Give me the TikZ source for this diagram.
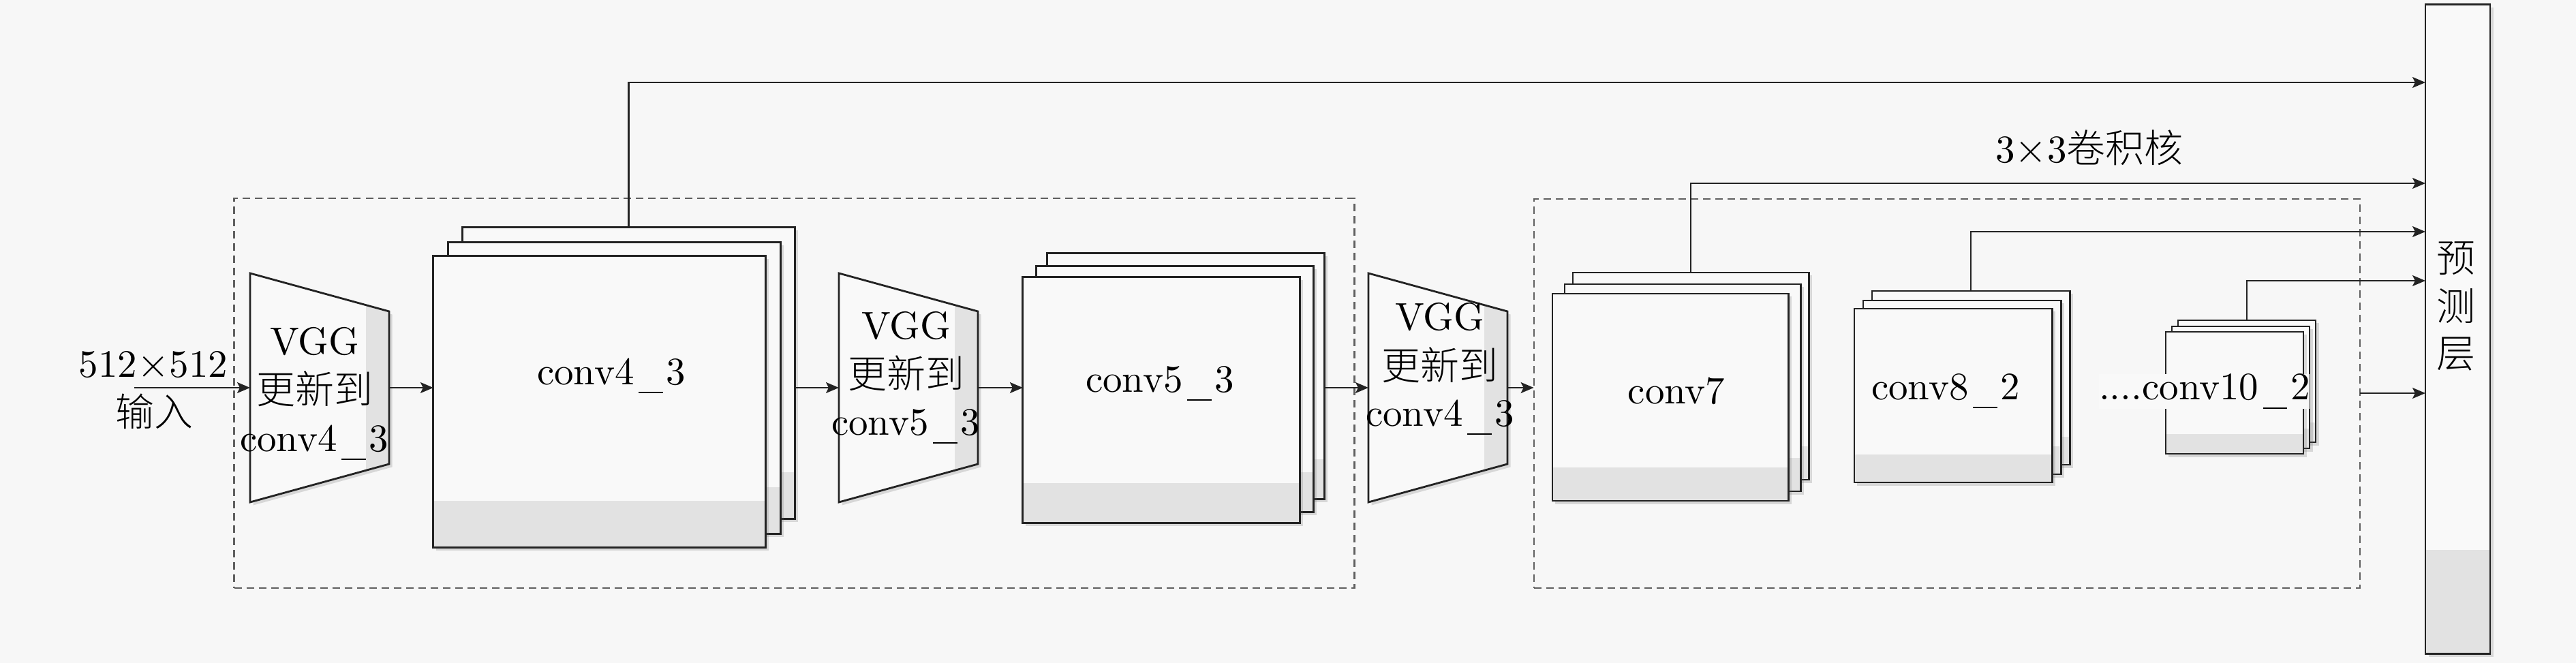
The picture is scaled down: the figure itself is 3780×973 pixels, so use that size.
\documentclass[tikz,border=0pt]{standalone}
\usepackage{fontspec}
\setmainfont{lmroman10-regular.otf}
\newfontfamily\cjk{Noto Sans CJK SC}[UprightFont=* Light]
\usetikzlibrary{arrows.meta,shadows,calc}
\definecolor{bg}{RGB}{247,247,247}
\definecolor{boxfill}{RGB}{249,249,249}
\definecolor{band}{RGB}{226,226,226}
\definecolor{ink}{RGB}{35,35,35}
\definecolor{dashc}{RGB}{95,95,95}
\newcommand{\us}{\kern0.12em\rule[-0.22em]{0.62em}{0.035em}\kern0.08em}
\newcommand{\vggtrap}[2]{%
  \coordinate (#1nw) at (#2,401);
  \coordinate (#1ne) at (#2+204,457);
  \coordinate (#1se) at (#2+204,681);
  \coordinate (#1sw) at (#2,737);
  \coordinate (#1l) at (#2,569);
  \coordinate (#1r) at (#2+204,569);
  \fill[boxfill, shad] (#1nw) -- (#1ne) -- (#1se) -- (#1sw) -- cycle;
  \begin{scope}
    \clip (#1nw) -- (#1ne) -- (#1se) -- (#1sw) -- cycle;
    \fill[band] (#2+170,380) rectangle (#2+210,760);
  \end{scope}
  \draw[border] (#1nw) -- (#1ne) -- (#1se) -- (#1sw) -- cycle;
}
\begin{document}
\begin{tikzpicture}[x=0.01cm,y=-0.01cm,
  txt/.style={font=\fontsize{16.2pt}{20pt}\selectfont, inner sep=0pt, outer sep=0pt, text=black},
  shad/.style={drop shadow={shadow xshift=0.045cm, shadow yshift=-0.045cm, opacity=0.22, fill=black!60}},
  border/.style={draw=ink, line width=0.8pt},
  layer/.style={border, fill=boxfill, inner sep=0pt, outer sep=0pt, shad,
    path picture={\fill[band] (path picture bounding box.south west) rectangle ($(path picture bounding box.south east)!0.16!(path picture bounding box.north east)$);}},
  arr/.style={draw=ink, line width=0.6pt, -{Stealth[length=0.19cm,width=0.16cm,inset=0.04cm]}},
  dashbox/.style={draw=dashc, line width=0.6pt, dash pattern=on 0.11cm off 0.07cm, inner sep=0pt, outer sep=0pt}
]
\useasboundingbox[fill=bg] (0,0) rectangle (3780,973);

% dashed groups
\node[dashbox, minimum width=16.43cm, minimum height=5.72cm] (g1) at (1165.5,577) {};
\node[dashbox, minimum width=12.12cm, minimum height=5.71cm] (g2) at (2857,577.5) {};

% trapezoids
\vggtrap{t1}{367}
\vggtrap{t2}{1231}
\vggtrap{t3}{2008}

% conv4_3 stack
\node[layer, minimum width=4.87cm, minimum height=4.27cm] (c4b) at (922.5,547.5) {};
\node[layer, minimum width=4.87cm, minimum height=4.27cm] (c4m) at (901.5,569.5) {};
\node[layer, minimum width=4.87cm, minimum height=4.27cm] (c4f) at (879.5,589.5) {};
% conv5_3 stack
\node[layer, minimum width=4.06cm, minimum height=3.60cm] (c5b) at (1740,552) {};
\node[layer, minimum width=4.06cm, minimum height=3.60cm] (c5m) at (1724,571) {};
\node[layer, minimum width=4.06cm, minimum height=3.60cm] (c5f) at (1704,587) {};
% conv7 stack
\node[layer, minimum width=3.46cm, minimum height=3.04cm] (c7b) at (2481,552) {};
\node[layer, minimum width=3.46cm, minimum height=3.04cm] (c7m) at (2469,569) {};
\node[layer, minimum width=3.46cm, minimum height=3.04cm] (c7f) at (2451,583) {};
% conv8_2 stack
\node[layer, minimum width=2.90cm, minimum height=2.55cm] (c8b) at (2892,554.5) {};
\node[layer, minimum width=2.90cm, minimum height=2.55cm] (c8m) at (2879,568.5) {};
\node[layer, minimum width=2.90cm, minimum height=2.55cm] (c8f) at (2866,580.5) {};
% conv10_2 stack
\node[layer, minimum width=2.02cm, minimum height=1.79cm] (c10b) at (3297,559.5) {};
\node[layer, minimum width=2.02cm, minimum height=1.79cm] (c10m) at (3288,568.5) {};
\node[layer, minimum width=2.02cm, minimum height=1.79cm] (c10f) at (3279,576.5) {};
% prediction layer
\node[layer, minimum width=0.95cm, minimum height=9.52cm] (pred) at (3606.5,483) {};

% main flow
\coordinate (in) at (197,569);
\draw[arr] (in) -- (t1l);
\draw[arr] (t1r) -- (t1r -| c4f.west);
\draw[arr] (t1r -| c4b.east) -- (t2l);
\draw[arr] (t2r) -- (t2r -| c5f.west);
\draw[arr] (t2r -| c5b.east) -- (t3l);
\draw[arr] (t3r) -- (t3r -| g2.west);

% to prediction layer
\draw[arr] (c4b.north) |- (pred.west |- 0,121);
\draw[arr] (c7b.north) |- (pred.west |- 0,269);
\draw[arr] (c8b.north) |- (pred.west |- 0,340);
\draw[arr] (c10b.north) |- (pred.west |- 0,412);
\draw[arr] (g2.east |- 0,577) -- (pred.west |- 0,577);

% texts
\node[txt, anchor=base] (inlbl) at (225,554) {512$\times$512};
\node[txt] (incn) at (226,604) {\cjk 输入};

\node[txt, anchor=base] (t1a) at (462,520) {VGG};
\node[txt] (t1b) at (462,571) {\cjk 更新到};
\node[txt, anchor=base] (t1c) at (461,662) {conv4\us 3};

\node[txt, anchor=base] (t2a) at (1330,498) {VGG};
\node[txt] (t2b) at (1330,548) {\cjk 更新到};
\node[txt, anchor=base] (t2c) at (1329,638) {conv5\us 3};

\node[txt, anchor=base] (t3a) at (2113,484) {VGG};
\node[txt] (t3b) at (2113,536) {\cjk 更新到};
\node[txt, anchor=base] (t3c) at (2113,625) {conv4\us 3};

\node[txt, anchor=base] (l4) at (897,564) {conv4\us 3};
\node[txt, anchor=base] (l5) at (1702,575) {conv5\us 3};
\node[txt, anchor=base] (l7) at (2460,592) {conv7};
\node[txt, anchor=base] (l8) at (2855,586) {conv8\us 2};
\node[txt, anchor=base west, fill=boxfill] (l10) at (3080,587) {....conv10\us 2};

\node[txt] (k3) at (3066,217) {3$\times$3{\cjk 卷积核}};

\node[txt] (p1) at (3604,379) {\cjk 预};
\node[txt] (p2) at (3604,449) {\cjk 测};
\node[txt] (p3) at (3604,520) {\cjk 层};
\end{tikzpicture}
\end{document}
